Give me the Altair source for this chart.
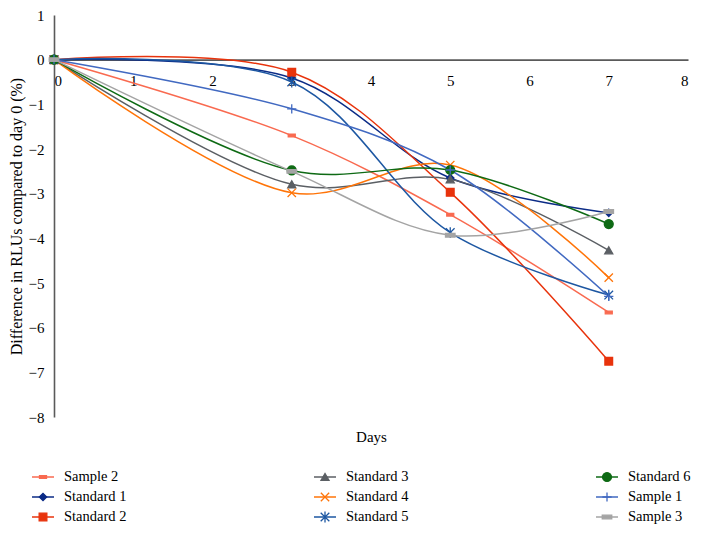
import altair as alt
import pandas as pd

# ---- data ----
days = [0, 3, 5, 7]
series_names = ["Sample 2", "Standard 1", "Standard 2", "Standard 3", "Standard 4",
                "Standard 5", "Standard 6", "Sample 1", "Sample 3"]
sample_2 = [0, -1.7, -3.47, -5.66]
standard_1 = [0, -0.41, -2.65, -3.43]
standard_2 = [0, -0.28, -2.97, -6.75]
standard_3 = [0, -2.79, -2.68, -4.27]
standard_4 = [0, -2.98, -2.36, -4.88]
standard_5 = [0, -0.5, -3.87, -5.27]
standard_6 = [0, -2.48, -2.47, -3.68]
sample_1 = [0, -1.1, -2.47, -5.3]
sample_3 = [0, -2.5, -3.93, -3.4]
series_values = [sample_2, standard_1, standard_2, standard_3, standard_4,
                 standard_5, standard_6, sample_1, sample_3]

colors = ["#F96A50", "#0B2B86", "#E8330C", "#5B5F64", "#FF7408",
          "#1D57A2", "#0E6A14", "#4169C1", "#A4A4A4"]
shapes = ["M-1,-0.38H1V0.38H-1Z", "diamond", "square", "triangle-up",
          "M-1,-1L1,1M-1,1L1,-1", "M-1,-1L1,1M-1,1L1,-1M0,-1.25V1.25",
          "circle", "M-1,0H1M0,-1V1", "M-1,-0.38H1V0.38H-1Z"]
sizes = [49, 90, 100, 100, 70, 80, 100, 100, 64]
y_ticks = [1, 0, -1, -2, -3, -4, -5, -6, -7, -8]
x_ticks = [0, 1, 2, 3, 4, 5, 6, 7, 8]

rows = []
for name, vals in zip(series_names, series_values):
    for d, v in zip(days, vals):
        rows.append({"series": name, "day": d, "value": v})
df = pd.DataFrame(rows)

leg = pd.DataFrame({
    "series": series_names,
    "col": [i // 3 for i in range(len(series_names))],
    "row": [i % 3 for i in range(len(series_names))],
})

FONT = "Liberation Serif"
W, H = 634, 402

color_scale = alt.Scale(domain=series_names, range=colors)
shape_scale = alt.Scale(domain=series_names, range=shapes)
size_scale = alt.Scale(domain=series_names, range=sizes)

x_enc = alt.X("day:Q", scale=alt.Scale(domain=[0, 8], nice=False),
              axis=alt.Axis(values=x_ticks, title="Days", orient="bottom",
                            offset=-H * 8 / 9, grid=False, ticks=False, tickSize=0,
                            domainColor="#5a5a5a", domainWidth=1.6,
                            labelPadding=14, labelFont=FONT, labelFontSize=15,
                            labelColor="#000", titleFont=FONT, titleFontSize=15,
                            titleFontWeight="normal", titleColor="#000",
                            titleBaseline="middle", titleY=H * 8 / 9 + 19))
y_enc = alt.Y("value:Q", scale=alt.Scale(domain=[-8, 1], nice=False),
              axis=alt.Axis(values=y_ticks, title="Difference in RLUs compared to day 0 (%)",
                            grid=False, ticks=False, tickSize=0,
                            domainColor="#5a5a5a", domainWidth=1.6,
                            labelPadding=10, labelFont=FONT, labelFontSize=15,
                            labelColor="#000", titleFont=FONT, titleFontSize=16,
                            titleFontWeight="normal", titleColor="#000",
                            titlePadding=4))

base = alt.Chart(df)
lines = base.mark_line(interpolate="catmull-rom", strokeWidth=1.5).encode(
    x=x_enc, y=y_enc,
    color=alt.Color("series:N", scale=color_scale, legend=None),
    detail="series:N",
)
points = base.mark_point(filled=True, opacity=1, strokeWidth=1.3).encode(
    x=x_enc, y=y_enc,
    color=alt.Color("series:N", scale=color_scale, legend=None),
    stroke=alt.Stroke("series:N", scale=color_scale, legend=None),
    shape=alt.Shape("series:N", scale=shape_scale, legend=None),
    size=alt.Size("series:N", scale=size_scale, legend=None),
)
main = alt.layer(lines, points).properties(width=W, height=H)

# ---- legend drawn as its own small panel ----
LW, LH = 564, 52
lx = alt.X("col:Q", scale=alt.Scale(domain=[0.078, 2.078], nice=False, zero=False), axis=None)
ly = alt.Y("row:Q", scale=alt.Scale(domain=[-0.3, 2.3], nice=False, zero=False, reverse=True), axis=None)
lbase = alt.Chart(leg)
l_rule = lbase.mark_rule(strokeWidth=1.5, x2Offset=22).encode(
    x=lx, x2=alt.X2("col:Q"), y=ly,
    color=alt.Color("series:N", scale=color_scale, legend=None),
)
l_pt = lbase.mark_point(filled=True, opacity=1, strokeWidth=1.3, xOffset=11).encode(
    x=lx, y=ly,
    color=alt.Color("series:N", scale=color_scale, legend=None),
    stroke=alt.Stroke("series:N", scale=color_scale, legend=None),
    shape=alt.Shape("series:N", scale=shape_scale, legend=None),
    size=alt.Size("series:N", scale=size_scale, legend=None),
)
l_txt = lbase.mark_text(align="left", baseline="middle", dx=32, font=FONT,
                        fontSize=14.5, color="#000").encode(
    x=lx, y=ly, text="series:N",
)
legend = alt.layer(l_rule, l_pt, l_txt).properties(width=LW, height=LH)

chart = alt.vconcat(main, legend, spacing=25).properties(
    padding={"top": 0, "left": 0, "right": 0, "bottom": 0}
).configure_view(stroke=None).resolve_scale(
    color="shared", shape="shared", size="shared", stroke="shared"
)

chart.save("out.html", embed_options={"renderer": "svg", "actions": False})
